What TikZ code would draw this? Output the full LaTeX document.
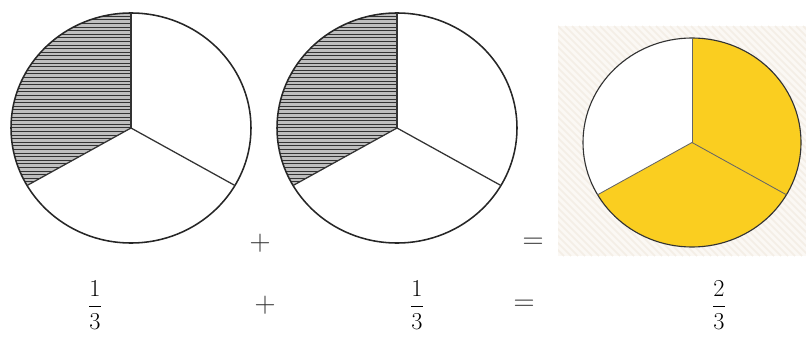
\documentclass[tikz,border=0pt]{standalone}
\usepackage{amsmath,amssymb}
\usepackage{xcolor}
\usepackage{tikz}
\usetikzlibrary{positioning,calc}

\definecolor{pieyellow}{RGB}{250,206,32}
\definecolor{bgbeige}{RGB}{251,248,244}
\definecolor{bgstripe}{RGB}{244,238,230}

\begin{document}
\begin{tikzpicture}[
  x=0.025cm, y=0.025cm,
  rim/.style={draw=black!85, line width=1.1pt},
  spoke/.style={draw=black!80, line width=0.9pt},
  sign/.style={font=\fontsize{21}{23}\selectfont, text=black!80, inner sep=0pt},
  frac/.style={font=\fontsize{17}{19}\selectfont, inner sep=0pt},
]
\useasboundingbox (0,0) rectangle (806,336);

%─── Pie 1: one third hatched ───────────────────────────────────────────────
\begin{scope}
  \clip (131,208) -- (131,323)
        arc[start angle=90, end angle=210, x radius=120, y radius=115] -- cycle;
  \fill[gray!50] (10,140) rectangle (135,325);
  \foreach \k in {0,...,52} {
    \draw[black!80, line width=0.75pt] (10,{150.5+\k*3.6}) -- (135,{150.5+\k*3.6});
  }
\end{scope}
\draw[rim] (131,208) ellipse[x radius=120, y radius=115];
\draw[spoke] (131,323) -- (131,208);
\draw[spoke] (131,208) -- ++({120*0.866},{-115*0.5});
\draw[spoke] (131,208) -- ++({-120*0.866},{-115*0.5});

%─── Pie 2: one third hatched ───────────────────────────────────────────────
\begin{scope}
  \clip (397,208) -- (397,323)
        arc[start angle=90, end angle=210, x radius=120, y radius=115] -- cycle;
  \fill[gray!50] (270,140) rectangle (400,325);
  \foreach \k in {0,...,52} {
    \draw[black!80, line width=0.75pt] (270,{150.5+\k*3.6}) -- (400,{150.5+\k*3.6});
  }
\end{scope}
\draw[rim] (397,208) ellipse[x radius=120, y radius=115];
\draw[spoke] (397,323) -- (397,208);
\draw[spoke] (397,208) -- ++({120*0.866},{-115*0.5});
\draw[spoke] (397,208) -- ++({-120*0.866},{-115*0.5});

%─── Pie 3: two thirds coloured, on a striped card ──────────────────────────
\fill[bgbeige] (558,80) rectangle (806,310);
\begin{scope}
  \clip (558,80) rectangle (806,310);
  \foreach \k in {0,...,72} {
    \draw[bgstripe, line width=1.2pt] ({320+\k*7},310) -- ({320+\k*7+230},80);
  }
\end{scope}
\fill[white] (692,193.5) ellipse[x radius=109, y radius=104.5];
\fill[pieyellow] (692,193.5) -- (692,298)
      arc[start angle=90, end angle=-150, x radius=109, y radius=104.5] -- cycle;
\draw[black!80, line width=0.8pt] (692,193.5) ellipse[x radius=109, y radius=104.5];
\draw[black!60, line width=0.6pt] (692,298) -- (692,193.5);
\draw[black!60, line width=0.6pt] (692,193.5) -- ++({109*0.866},{-104.5*0.5});
\draw[black!60, line width=0.6pt] (692,193.5) -- ++({-109*0.866},{-104.5*0.5});

%─── Signs between the pies ─────────────────────────────────────────────────
\node[sign] (plustop) at (260,93) {$+$};
\node[sign] (eqtop)   at (533,93) {$=$};

%─── Fractions row ──────────────────────────────────────────────────────────
\node[frac] (fracone) at (95,31)  {$\dfrac{1}{3}$};
\node[sign] (plusbot) at (265,31) {$+$};
\node[frac] (fractwo) at (417,31) {$\dfrac{1}{3}$};
\node[sign] (eqbot)   at (524,31) {$=$};
\node[frac] (fracsum) at (719,31) {$\dfrac{2}{3}$};

\end{tikzpicture}
\end{document}
